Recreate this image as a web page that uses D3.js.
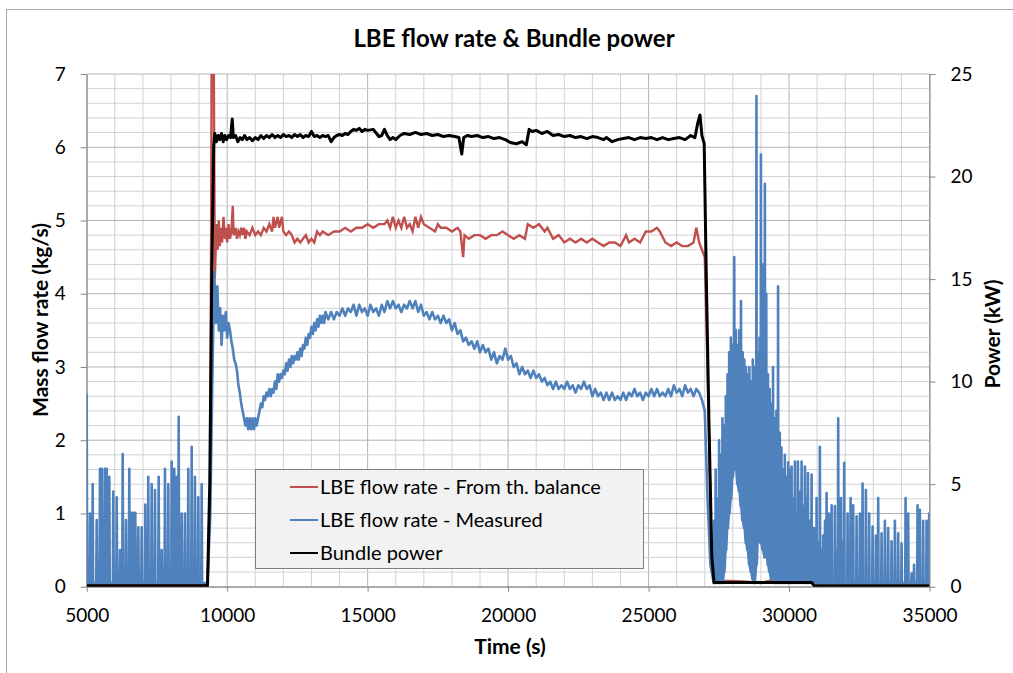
<!DOCTYPE html>
<html>
<head>
<meta charset="utf-8">
<script src="https://cdn.jsdelivr.net/npm/d3@7"></script>
<style>
  body { margin: 0; background: #fff; }
  text { font-family: Lato, "Open Sans", sans-serif; fill: #000; }
</style>
</head>
<body>
<svg id="chart" width="1013" height="673"></svg>
<script>
// ---- data ----
const xTicks = [5000, 10000, 15000, 20000, 25000, 30000, 35000];
const leftTicks = [0, 1, 2, 3, 4, 5, 6, 7];
const rightTicks = [0, 5, 10, 15, 20, 25];

// LBE flow rate - from thermal balance (kg/s): [time, value]
const balanceFlow = [
  [5000, 0.02], [9300, 0.02], [9400, 1.5], [9450, 7.5], [9520, 7.5], [9560, 4.2],
  [9620, 4.95], [9660, 4.6], [9700, 5.0], [9740, 4.65], [9780, 4.9], [9820, 4.7],
  [9870, 5.05], [9920, 4.75], [9960, 4.9], [10000, 4.7], [10050, 4.95], [10100, 4.75],
  [10150, 4.85], [10200, 5.2], [10230, 4.8], [10300, 4.9], [10350, 4.75], [10400, 4.85],
  [10450, 4.8], [10500, 4.9], [10550, 4.8], [10600, 4.9], [10650, 4.75], [10700, 4.85],
  [10800, 4.8], [10900, 4.9], [11000, 4.8], [11100, 4.85], [11200, 4.8], [11300, 4.9],
  [11400, 4.85], [11500, 4.95], [11600, 4.85], [11650, 5.05], [11700, 4.9], [11800, 5.05],
  [11850, 4.9], [11950, 5.05], [12000, 4.85], [12100, 4.8], [12200, 4.85], [12300, 4.8],
  [12400, 4.7], [12500, 4.75], [12600, 4.7], [12700, 4.75], [12800, 4.8], [12900, 4.7],
  [13000, 4.75], [13100, 4.7], [13200, 4.85], [13300, 4.8], [13400, 4.85], [13600, 4.8],
  [13800, 4.85], [14000, 4.85], [14200, 4.9], [14400, 4.85], [14600, 4.9], [14800, 4.9],
  [15000, 4.95], [15200, 4.9], [15400, 4.95], [15600, 4.95], [15700, 5.0], [15800, 4.9],
  [15900, 5.05], [16000, 4.9], [16100, 5.0], [16200, 4.9], [16300, 5.05], [16400, 4.9],
  [16500, 4.95], [16600, 4.85], [16700, 5.05], [16800, 4.9], [16900, 5.05], [17000, 4.95],
  [17200, 4.9], [17400, 4.85], [17500, 4.95], [17600, 4.9], [17800, 4.9], [18000, 4.85],
  [18200, 4.9], [18300, 4.85], [18400, 4.5], [18450, 4.8], [18600, 4.75], [18800, 4.8],
  [19000, 4.8], [19200, 4.75], [19400, 4.8], [19600, 4.8], [19800, 4.85], [20000, 4.8],
  [20200, 4.75], [20400, 4.8], [20600, 4.75], [20700, 4.95], [20900, 4.9], [21100, 4.95],
  [21300, 4.85], [21400, 4.9], [21600, 4.75], [21800, 4.8], [22000, 4.7], [22200, 4.75],
  [22400, 4.7], [22600, 4.75], [22800, 4.7], [23000, 4.75], [23200, 4.7], [23400, 4.65],
  [23600, 4.7], [23800, 4.7], [24000, 4.65], [24200, 4.8], [24300, 4.7], [24500, 4.75],
  [24700, 4.7], [24900, 4.85], [25100, 4.85], [25300, 4.9], [25400, 4.85], [25600, 4.7],
  [25800, 4.65], [26000, 4.7], [26200, 4.65], [26400, 4.65], [26600, 4.7], [26700, 4.9],
  [26800, 4.7], [26900, 4.6], [27000, 4.5], [27100, 3.0], [27250, 0.3], [27330, 0.07],
  [27500, 0.08], [28000, 0.08], [28500, 0.07], [29000, 0.05], [29500, 0.1], [29800, 0.15],
  [30000, 0.12], [30500, 0.1], [31000, 0.05], [33000, 0.05], [35000, 0.05]
];

// LBE flow rate - measured, before heating: spikes above a flat base (kg/s)
const preBase = 0.05;
const preSpikeT = [5000, 5117, 5213, 5356, 5473, 5544, 5651, 5712, 5805, 5947, 6068, 6185,
  6281, 6399, 6516, 6601, 6660, 6730, 6837, 6957, 7085, 7192, 7313, 7431, 7562, 7669,
  7786, 7904, 8025, 8117, 8203, 8274, 8381, 8498, 8616, 8737, 8854, 8972, 9093];
const preSpikeV = [2.62, 1.0, 1.4, 0.91, 1.61, 1.61, 1.61, 1.61, 1.5, 1.3, 1.22, 0.5,
  1.81, 0.91, 1.61, 1.01, 1.01, 1.01, 0.81, 0.81, 1.12, 1.5, 1.4, 1.32, 1.5, 0.5,
  1.61, 1.4, 1.71, 1.61, 1.5, 2.32, 1.0, 1.0, 1.61, 1.91, 1.5, 1.22, 1.4];

// LBE flow rate - measured, during heating: [time, value]
const heatedFlow = [
  [9300, 0.05], [9400, 1.0], [9480, 3.0], [9540, 4.3], [9600, 3.6], [9650, 4.1],
  [9700, 3.5], [9750, 3.8], [9800, 3.3], [9850, 3.7], [9900, 3.5], [9950, 3.75],
  [10000, 3.4], [10050, 3.6], [10100, 3.5], [10150, 3.35], [10200, 3.25], [10250, 3.1],
  [10300, 3.05], [10350, 2.95], [10400, 2.75], [10450, 2.65], [10500, 2.5], [10550, 2.4],
  [10600, 2.3], [10650, 2.2], [10700, 2.3], [10750, 2.15], [10800, 2.3], [10850, 2.15],
  [10900, 2.3], [10950, 2.15], [11000, 2.3], [11050, 2.2], [11100, 2.3], [11150, 2.4],
  [11200, 2.5], [11250, 2.45], [11300, 2.6], [11350, 2.55], [11400, 2.65], [11450, 2.6],
  [11500, 2.7], [11550, 2.6], [11600, 2.7], [11650, 2.65], [11700, 2.8], [11750, 2.7],
  [11800, 2.9], [11850, 2.8], [11900, 2.9], [11950, 2.85], [12000, 2.95], [12050, 2.9],
  [12100, 3.05], [12150, 2.95], [12200, 3.1], [12250, 3.0], [12300, 3.15], [12350, 3.05],
  [12400, 3.15], [12450, 3.1], [12500, 3.2], [12550, 3.1], [12600, 3.25], [12650, 3.15],
  [12700, 3.3], [12750, 3.25], [12800, 3.4], [12850, 3.3], [12900, 3.45], [12950, 3.4],
  [13000, 3.55], [13050, 3.45], [13100, 3.6], [13150, 3.5], [13200, 3.65], [13250, 3.55],
  [13300, 3.7], [13350, 3.6], [13400, 3.7], [13450, 3.6], [13500, 3.75], [13600, 3.65],
  [13700, 3.75], [13800, 3.65], [13900, 3.75], [14000, 3.7], [14100, 3.8], [14200, 3.7],
  [14300, 3.8], [14400, 3.75], [14500, 3.85], [14600, 3.7], [14700, 3.85], [14800, 3.75],
  [14900, 3.8], [15000, 3.7], [15100, 3.85], [15200, 3.75], [15300, 3.8], [15400, 3.7],
  [15500, 3.85], [15600, 3.75], [15700, 3.9], [15800, 3.8], [15900, 3.9], [16000, 3.8],
  [16100, 3.85], [16200, 3.75], [16300, 3.85], [16400, 3.8], [16500, 3.9], [16600, 3.8],
  [16700, 3.9], [16800, 3.75], [16900, 3.85], [17000, 3.7], [17100, 3.75], [17200, 3.65],
  [17300, 3.75], [17400, 3.65], [17500, 3.7], [17600, 3.6], [17700, 3.7], [17800, 3.6],
  [17900, 3.65], [18000, 3.5], [18100, 3.6], [18200, 3.45], [18300, 3.5], [18400, 3.35],
  [18500, 3.4], [18600, 3.3], [18700, 3.35], [18800, 3.25], [18900, 3.35], [19000, 3.2],
  [19100, 3.3], [19200, 3.2], [19300, 3.25], [19400, 3.1], [19500, 3.2], [19600, 3.05],
  [19700, 3.15], [19800, 3.1], [19900, 3.25], [20000, 3.1], [20100, 3.15], [20200, 3.0],
  [20300, 3.05], [20400, 2.9], [20500, 3.0], [20600, 2.9], [20700, 2.95], [20800, 2.85],
  [20900, 2.95], [21000, 2.85], [21100, 2.9], [21200, 2.8], [21300, 2.85], [21400, 2.75],
  [21500, 2.8], [21600, 2.7], [21700, 2.8], [21800, 2.7], [21900, 2.75], [22000, 2.7],
  [22100, 2.8], [22200, 2.7], [22300, 2.75], [22400, 2.65], [22500, 2.75], [22600, 2.7],
  [22700, 2.8], [22800, 2.7], [22900, 2.75], [23000, 2.6], [23100, 2.7], [23200, 2.6],
  [23300, 2.65], [23400, 2.55], [23500, 2.65], [23600, 2.55], [23700, 2.65], [23800, 2.55],
  [23900, 2.6], [24000, 2.55], [24100, 2.65], [24200, 2.55], [24300, 2.65], [24400, 2.6],
  [24500, 2.7], [24600, 2.6], [24700, 2.65], [24800, 2.55], [24900, 2.65], [25000, 2.6],
  [25100, 2.7], [25200, 2.6], [25300, 2.7], [25400, 2.6], [25500, 2.65], [25600, 2.6],
  [25700, 2.7], [25800, 2.6], [25900, 2.75], [26000, 2.65], [26100, 2.7], [26200, 2.6],
  [26300, 2.75], [26400, 2.65], [26500, 2.7], [26600, 2.6], [26700, 2.7], [26800, 2.65],
  [26900, 2.55], [27000, 2.4], [27100, 1.2], [27200, 0.3]
];

// LBE flow rate - measured, after shutdown: low / high of each oscillation (kg/s)
const postT = [27330, 27390, 27450, 27510, 27570, 27630, 27690, 27750, 27810, 27870, 27930,
  27990, 28050, 28110, 28170, 28230, 28290, 28350, 28410, 28470, 28530, 28590, 28650, 28710,
  28770, 28840, 28890, 28950, 29000, 29070, 29140, 29190, 29250, 29310, 29370, 29430, 29490,
  29550, 29610, 29670, 29730, 29790, 29850, 29910, 29970, 30030, 30091, 30150, 30209, 30260,
  30316, 30380, 30447, 30500, 30565, 30620, 30672, 30740, 30803, 30890, 30981, 31040, 31098,
  31160, 31216, 31280, 31337, 31419, 31515, 31632, 31700, 31750, 31846, 31900, 31963, 32084,
  32191, 32284, 32405, 32522, 32618, 32736, 32853, 32974, 33092, 33174, 33294, 33412, 33529,
  33650, 33768, 33885, 34006, 34148, 34241, 34362, 34450, 34575, 34657, 34775, 34896, 34988];
const postLow = [0.05, 0.05, 0.1, 0.05, 0.1, 0.05, 0.2, 0.5, 0.8, 1.0, 1.2,
  1.5, 1.7, 1.6, 1.4, 1.3, 1.1, 0.9, 0.8, 0.6, 0.5, 0.3, 0.2, 0.1,
  0.05, 0.3, 0.6, 0.8, 0.6, 0.5, 0.4, 0.6, 0.3, 0.2, 0.1, 0.15, 0.05,
  0.1, 0.05, 0.1, 0.05, 0.1, 0.05, 0.1, 0.05, 0.1, 0.05, 0.2, 0.05, 0.3,
  0.05, 0.2, 0.05, 0.3, 0.05, 0.2, 0.05, 0.1, 0.05, 0.1, 0.05, 0.1, 0.05,
  0.1, 0.05, 0.1, 0.05, 0.05, 0.05, 0.05, 0.1, 0.05, 0.05, 0.1, 0.05, 0.05,
  0.05, 0.05, 0.05, 0.05, 0.05, 0.05, 0.05, 0.05, 0.05, 0.05, 0.05, 0.05, 0.05,
  0.05, 0.05, 0.05, 0.05, 0.05, 0.05, 0.05, 0.05, 0.05, 0.05, 0.05, 0.05, 0.05];
const postHigh = [0.9, 1.6, 1.2, 2.0, 1.8, 2.3, 2.2, 2.6, 2.9, 3.2, 3.4,
  3.3, 4.5, 3.5, 3.3, 3.5, 3.9, 3.2, 3.1, 3.0, 2.9, 3.0, 2.8, 3.1,
  3.0, 6.7, 3.2, 3.4, 5.9, 4.4, 5.5, 4.0, 2.9, 2.7, 2.5, 3.0, 2.3,
  2.4, 4.1, 2.1, 1.9, 1.6, 1.8, 1.5, 1.7, 1.6, 1.64, 1.2, 1.71, 1.0,
  1.71, 1.3, 1.71, 1.1, 1.64, 1.2, 1.55, 0.9, 1.53, 0.8, 1.21, 0.6, 1.91,
  0.5, 0.7, 0.9, 1.28, 1.0, 1.11, 1.1, 0.5, 2.3, 1.21, 0.6, 1.69, 1.0,
  1.21, 1.11, 0.96, 1.0, 1.41, 1.32, 1.0, 0.82, 0.7, 1.21, 0.73, 0.9, 0.8,
  0.62, 0.9, 0.73, 0.59, 1.21, 1.0, 0.18, 0.3, 1.11, 1.05, 0.9, 0.9, 1.0];

// Bundle power (kW): [time, value]
const bundlePower = [
  [5000, 0.05], [9300, 0.05], [9380, 5], [9450, 15], [9520, 21.5], [9560, 22.1],
  [9620, 21.7], [9680, 22.0], [9740, 21.8], [9800, 22.1], [9860, 21.7], [9920, 22.0],
  [9980, 21.8], [10050, 22.0], [10120, 21.9], [10180, 22.8], [10220, 21.9], [10300, 22.0],
  [10380, 21.7], [10460, 21.9], [10540, 21.8], [10620, 22.0], [10700, 21.8], [10800, 21.9],
  [10900, 21.75], [11000, 21.9], [11100, 21.8], [11200, 22.0], [11300, 21.85], [11400, 22.0],
  [11500, 21.9], [11600, 22.05], [11700, 21.9], [11800, 22.0], [11900, 21.9], [12000, 22.05],
  [12100, 21.95], [12200, 22.0], [12300, 21.9], [12400, 22.05], [12500, 21.95], [12600, 22.05],
  [12700, 21.9], [12800, 22.0], [12900, 21.95], [13000, 22.2], [13100, 21.95], [13200, 22.0],
  [13300, 21.9], [13400, 22.0], [13500, 21.95], [13600, 22.0], [13700, 21.7], [13800, 21.9],
  [13900, 22.0], [14000, 22.05], [14100, 22.0], [14200, 22.1], [14300, 22.05], [14400, 22.2],
  [14500, 22.3], [14600, 22.25], [14700, 22.35], [14800, 22.2], [14900, 22.3], [15000, 22.25],
  [15200, 22.3], [15400, 21.95], [15500, 22.0], [15600, 22.3], [15700, 22.0], [15800, 21.8],
  [15900, 21.9], [16000, 21.8], [16150, 22.0], [16300, 22.1], [16500, 22.05], [16700, 22.15],
  [16900, 22.05], [17100, 22.1], [17300, 22.0], [17500, 22.05], [17700, 21.95], [17900, 22.0],
  [18100, 21.95], [18250, 21.9], [18350, 21.1], [18420, 21.9], [18550, 22.0], [18700, 21.95],
  [18900, 22.0], [19100, 21.9], [19300, 21.95], [19500, 21.85], [19700, 21.9], [19900, 21.8],
  [20100, 21.65], [20300, 21.6], [20500, 21.7], [20650, 21.55], [20750, 22.3], [20850, 22.2],
  [21000, 22.25], [21200, 22.1], [21400, 22.2], [21600, 22.0], [21800, 22.05], [22000, 21.95],
  [22200, 22.0], [22400, 21.9], [22600, 21.95], [22800, 21.85], [23000, 21.95], [23200, 21.9],
  [23400, 21.8], [23500, 21.9], [23700, 21.7], [23900, 21.8], [24100, 21.85], [24300, 21.9],
  [24500, 21.8], [24700, 21.9], [24900, 21.85], [25100, 21.9], [25300, 21.8], [25500, 21.9],
  [25700, 21.8], [25900, 21.85], [26100, 21.9], [26300, 21.8], [26500, 22.0], [26650, 21.9],
  [26750, 22.6], [26830, 23.0], [26900, 22.0], [26980, 21.6], [27050, 15.5], [27150, 8],
  [27250, 1.5], [27330, 0.2], [30800, 0.2], [30900, 0.05], [35000, 0.05]
];

const legendItems = [
  { name: "LBE flow rate - From th. balance", color: "#c0504d" },
  { name: "LBE flow rate - Measured", color: "#4f81bd" },
  { name: "Bundle power", color: "#000000" }
];

// ---- drawing ----
const svg = d3.select("#chart");
const plot = { left: 86.7, right: 929.5, top: 74, bottom: 586.7 };

const x = d3.scaleLinear().domain([5000, 35000]).range([plot.left, plot.right]);
const yL = d3.scaleLinear().domain([0, 7]).range([plot.bottom, plot.top]);
const yR = d3.scaleLinear().domain([0, 25]).range([plot.bottom, plot.top]);

// outer chart border
svg.append("rect")
  .attr("x", 6.5).attr("y", 9.5).attr("width", 1020).attr("height", 680)
  .attr("fill", "none").attr("stroke", "#a6a6a6");

svg.append("text")
  .attr("x", 514).attr("y", 47)
  .attr("text-anchor", "middle")
  .style("font-size", "24px").style("font-weight", "bold")
  .text("LBE flow rate & Bundle power");

// gridlines
const grid = svg.append("g");
grid.selectAll("line.v").data(d3.range(5000, 35001, 1000)).enter()
  .append("line")
  .attr("x1", d => x(d)).attr("x2", d => x(d))
  .attr("y1", plot.top).attr("y2", plot.bottom)
  .attr("stroke", d => d % 5000 === 0 ? "#b3b3b3" : "#d2d2d2")
  .attr("stroke-width", 1);
grid.selectAll("line.h").data(d3.range(0, 36).map(i => i / 5)).enter()
  .append("line")
  .attr("x1", plot.left).attr("x2", plot.right)
  .attr("y1", d => yL(d)).attr("y2", d => yL(d))
  .attr("stroke", d => Math.abs(d - Math.round(d)) < 1e-6 ? "#b3b3b3" : "#d2d2d2")
  .attr("stroke-width", 1);

// axes
const axisStyle = g => {
  g.select(".domain").attr("stroke", "#868686");
  g.selectAll(".tick line").attr("stroke", "#868686");
  g.selectAll(".tick text").style("font-size", "19px").attr("fill", "#000");
};
svg.append("g")
  .attr("transform", `translate(${plot.left},0)`)
  .call(d3.axisLeft(yL).tickValues(leftTicks).tickFormat(d3.format("d"))
    .tickSize(6).tickSizeOuter(0).tickPadding(15))
  .call(axisStyle);
svg.append("g")
  .attr("transform", `translate(${plot.right},0)`)
  .call(d3.axisRight(yR).tickValues(rightTicks).tickFormat(d3.format("d"))
    .tickSize(6).tickSizeOuter(0).tickPadding(15))
  .call(axisStyle);
svg.append("g")
  .attr("transform", `translate(0,${plot.bottom})`)
  .call(d3.axisBottom(x).tickValues(xTicks).tickFormat(d3.format("d"))
    .tickSize(5).tickSizeOuter(0).tickPadding(17))
  .call(axisStyle);

// axis titles
svg.append("text")
  .attr("x", 510).attr("y", 654).attr("text-anchor", "middle")
  .style("font-size", "21px").style("font-weight", "bold")
  .text("Time (s)");
svg.append("text")
  .attr("transform", "translate(48,320) rotate(-90)").attr("text-anchor", "middle")
  .style("font-size", "21px").style("font-weight", "bold")
  .text("Mass flow rate (kg/s)");
svg.append("text")
  .attr("transform", "translate(1000,334) rotate(-90)").attr("text-anchor", "middle")
  .style("font-size", "21px").style("font-weight", "bold")
  .text("Power (kW)");

// series
svg.append("clipPath").attr("id", "plotClip")
  .append("rect")
  .attr("x", plot.left).attr("y", plot.top)
  .attr("width", plot.right - plot.left).attr("height", plot.bottom - plot.top);

const series = svg.append("g").attr("clip-path", "url(#plotClip)");
const lineL = d3.line().x(d => x(d[0])).y(d => yL(d[1]));
const lineR = d3.line().x(d => x(d[0])).y(d => yR(d[1]));

// measured flow: spikes before heating, heated plateau, oscillations after shutdown
const measured = [];
preSpikeT.forEach((t, i) => {
  measured.push([t - 15, preBase], [t, preSpikeV[i]], [t + 15, preBase]);
});
measured.push(...heatedFlow);
postT.forEach((t, i) => {
  measured.push([t - 12, postLow[i]], [t, postHigh[i]], [t + 12, postLow[i]]);
});
measured.sort((a, b) => a[0] - b[0]);

series.append("path").datum(balanceFlow)
  .attr("d", lineL).attr("fill", "none")
  .attr("stroke", legendItems[0].color).attr("stroke-width", 2.4);
series.append("path").datum(measured)
  .attr("d", lineL).attr("fill", "none")
  .attr("stroke", legendItems[1].color).attr("stroke-width", 2.6)
  .attr("stroke-linejoin", "round");
series.append("path").datum(bundlePower)
  .attr("d", lineR).attr("fill", "none")
  .attr("stroke", legendItems[2].color).attr("stroke-width", 3)
  .attr("stroke-linejoin", "round");

// legend
const legend = svg.append("g").attr("transform", "translate(255,469)");
legend.append("rect")
  .attr("x", 0.5).attr("y", 0.5).attr("width", 388).attr("height", 99)
  .attr("fill", "#f2f2f2").attr("stroke", "#7f7f7f");
const rows = legend.selectAll("g.row").data(legendItems).enter()
  .append("g").attr("transform", (d, i) => `translate(0,${18 + i * 33})`);
rows.append("line")
  .attr("x1", 35).attr("x2", 63).attr("y1", 0).attr("y2", 0)
  .attr("stroke", d => d.color).attr("stroke-width", 2);
rows.append("text")
  .attr("x", 65).attr("y", 0).attr("dy", "0.35em")
  .style("font-size", "20px")
  .text(d => d.name);
</script>
</body>
</html>
